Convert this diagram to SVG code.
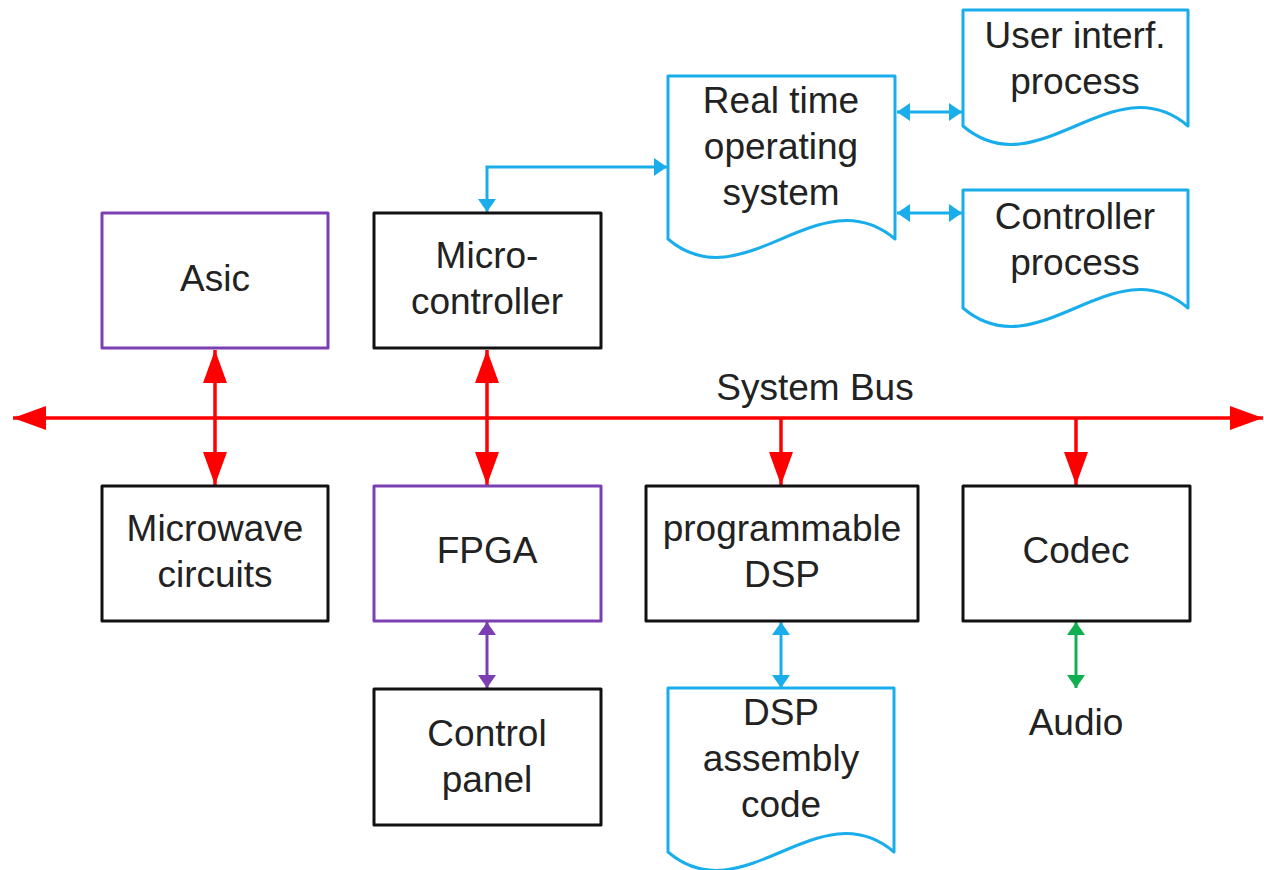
<svg xmlns="http://www.w3.org/2000/svg" width="1264" height="870" viewBox="0 0 1264 870">
  <style>
    text { font-family: "Liberation Sans", Arial, sans-serif; font-size: 37px; fill: #222; text-anchor: middle; }
    .box { fill: #fff; stroke-width: 3; stroke-linejoin: round; }
    .blk { stroke: #111; }
    .pur { stroke: #7B3FB2; }
    .doc { fill: #fff; stroke: #1AADEB; stroke-width: 3; stroke-linejoin: round; }
    .bus { stroke: #FF0000; stroke-width: 3.5; fill: none; }
    .cyan { stroke: #1AADEB; stroke-width: 3; fill: none; }
    .violet { stroke: #7B3FB2; stroke-width: 3; fill: none; }
    .green { stroke: #10B050; stroke-width: 3; fill: none; }
  </style>
  <defs>
    <marker id="redHead" markerUnits="userSpaceOnUse" markerWidth="34" markerHeight="26" refX="33" refY="12" orient="auto-start-reverse" viewBox="0 0 34 24">
      <path d="M0,0 L33,12 L0,24 Z" fill="#FF0000"/>
    </marker>
    <marker id="cyanHead" markerUnits="userSpaceOnUse" markerWidth="14" markerHeight="18" refX="13" refY="9" orient="auto-start-reverse" viewBox="0 0 14 18">
      <path d="M0,0 L13,9 L0,18 Z" fill="#1AADEB"/>
    </marker>
    <marker id="violetHead" markerUnits="userSpaceOnUse" markerWidth="14" markerHeight="18" refX="13" refY="9" orient="auto-start-reverse" viewBox="0 0 14 18">
      <path d="M0,0 L13,9 L0,18 Z" fill="#7B3FB2"/>
    </marker>
    <marker id="greenHead" markerUnits="userSpaceOnUse" markerWidth="14" markerHeight="18" refX="13" refY="9" orient="auto-start-reverse" viewBox="0 0 14 18">
      <path d="M0,0 L13,9 L0,18 Z" fill="#10B050"/>
    </marker>
  </defs>

  <rect width="1264" height="870" fill="#fff"/>

  <!-- connectors -->
  <g id="connectors">
    <line class="bus" x1="13" y1="418" x2="1263" y2="418" marker-start="url(#redHead)" marker-end="url(#redHead)"/>
    <line class="bus" x1="215" y1="350" x2="215" y2="485" marker-start="url(#redHead)" marker-end="url(#redHead)"/>
    <line class="bus" x1="487" y1="350" x2="487" y2="485" marker-start="url(#redHead)" marker-end="url(#redHead)"/>
    <line class="bus" x1="781" y1="418" x2="781" y2="485" marker-end="url(#redHead)"/>
    <line class="bus" x1="1076" y1="418" x2="1076" y2="485" marker-end="url(#redHead)"/>
    <path class="cyan" d="M487,212 V167 H667" marker-start="url(#cyanHead)" marker-end="url(#cyanHead)"/>
    <line class="cyan" x1="897" y1="112" x2="962" y2="112" marker-start="url(#cyanHead)" marker-end="url(#cyanHead)"/>
    <line class="cyan" x1="897" y1="213" x2="962" y2="213" marker-start="url(#cyanHead)" marker-end="url(#cyanHead)"/>
    <line class="cyan" x1="781" y1="622" x2="781" y2="688" marker-start="url(#cyanHead)" marker-end="url(#cyanHead)"/>
    <line class="violet" x1="487" y1="622" x2="487" y2="688" marker-start="url(#violetHead)" marker-end="url(#violetHead)"/>
    <line class="green" x1="1076" y1="622" x2="1076" y2="688" marker-start="url(#greenHead)" marker-end="url(#greenHead)"/>
  </g>

  <text id="bus-label" x="815" y="400">System Bus</text>

  <g id="asic">
    <rect class="box pur" x="102" y="213" width="226" height="135"/>
    <text x="215" y="291">Asic</text>
  </g>
  <g id="microcontroller">
    <rect class="box blk" x="374" y="213" width="227" height="135"/>
    <text x="487" y="268">Micro-</text>
    <text x="487" y="314">controller</text>
  </g>
  <g id="rtos">
    <path class="doc" d="M668,76 H895 V239 C819,175 743,303 668,239 Z"/>
    <text x="781" y="113">Real time</text>
    <text x="781" y="159">operating</text>
    <text x="781" y="205">system</text>
  </g>
  <g id="user-interface">
    <path class="doc" d="M963,10 H1188 V126 C1113,62 1038,190 963,126 Z"/>
    <text x="1075" y="48">User interf.</text>
    <text x="1075" y="94">process</text>
  </g>
  <g id="controller-process">
    <path class="doc" d="M963,190 H1188 V308 C1113,244 1038,372 963,308 Z"/>
    <text x="1075" y="229">Controller</text>
    <text x="1075" y="275">process</text>
  </g>
  <g id="microwave">
    <rect class="box blk" x="102" y="486" width="226" height="135"/>
    <text x="215" y="541">Microwave</text>
    <text x="215" y="587">circuits</text>
  </g>
  <g id="fpga">
    <rect class="box pur" x="374" y="486" width="227" height="135"/>
    <text x="487" y="563">FPGA</text>
  </g>
  <g id="dsp">
    <rect class="box blk" x="646" y="486" width="272" height="135"/>
    <text x="782" y="541">programmable</text>
    <text x="782" y="587">DSP</text>
  </g>
  <g id="codec">
    <rect class="box blk" x="963" y="486" width="227" height="135"/>
    <text x="1076" y="563">Codec</text>
  </g>
  <g id="control-panel">
    <rect class="box blk" x="374" y="689" width="227" height="136"/>
    <text x="487" y="746">Control</text>
    <text x="487" y="792">panel</text>
  </g>
  <g id="dsp-code">
    <path class="doc" d="M668,688 H894 V852 C819,788 743,916 668,852 Z"/>
    <text x="781" y="725">DSP</text>
    <text x="781" y="771">assembly</text>
    <text x="781" y="817">code</text>
  </g>
  <g id="audio">
    <text x="1076" y="735">Audio</text>
  </g>
</svg>
